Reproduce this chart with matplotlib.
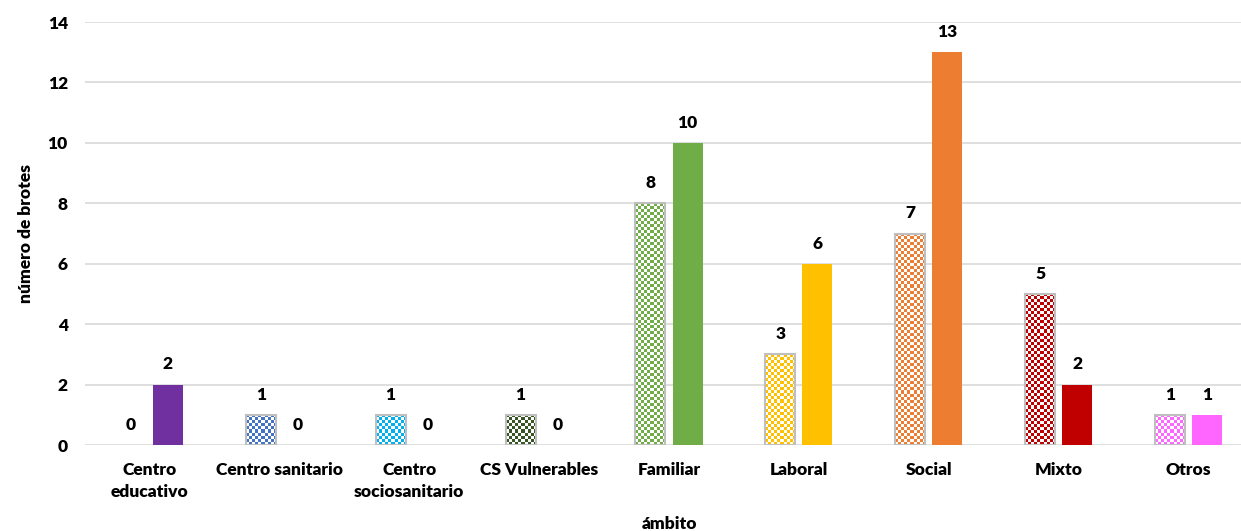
import numpy as np
import matplotlib.pyplot as plt
from matplotlib.colors import to_rgb

plt.rcParams['font.family'] = ['Lato', 'DejaVu Sans']
plt.rcParams['font.weight'] = 'heavy'

# data
categories = ["Centro\neducativo", "Centro sanitario", "Centro\nsociosanitario",
              "CS Vulnerables", "Familiar", "Laboral", "Social", "Mixto", "Otros"]
checked_vals = [0, 1, 1, 1, 8, 3, 7, 5, 1]
solid_vals = [2, 0, 0, 0, 10, 6, 13, 2, 1]
colors = ["#7030A0", "#4472C4", "#00B0F0", "#375623", "#70AD47",
          "#FFC000", "#ED7D31", "#C00000", "#FF66FF"]

FS = 12.5
W, H = 1241, 531
fig = plt.figure(figsize=(W / 100, H / 100), dpi=100)
ax = fig.add_axes([84.5 / W, 1 - 445 / H, 1169 / W, 423 / H])

x = np.arange(len(categories))
bw = 0.231
off = 0.1425

ax.set_xlim(-0.5, len(categories) - 0.5)
ax.set_ylim(0, 14)
ax.set_yticks(range(0, 15, 2))
ax.grid(axis='y', color='#D9D9D9', linewidth=1.2, zorder=0)
ax.set_axisbelow(True)
for s in ax.spines.values():
    s.set_visible(False)
ax.tick_params(length=0, labelsize=FS, pad=12)
ax.tick_params(axis='x', pad=12)

# solid bars
ax.bar(x + off, solid_vals, bw, color=colors, zorder=2)

# checked bars: white base + checkerboard image clipped to the bar + grey edge
base = ax.bar(x - off, checked_vals, bw, color='white', zorder=2)
px_per_x = ax.transData.transform((1, 0))[0] - ax.transData.transform((0, 0))[0]
px_per_y = ax.transData.transform((0, 1))[1] - ax.transData.transform((0, 0))[1]
cell = 3.0
for rect, c in zip(base, colors):
    h = rect.get_height()
    if h <= 0:
        continue
    nx = int(round(rect.get_width() * px_per_x / cell))
    ny = int(round(h * px_per_y / cell))
    ii, jj = np.indices((ny, nx))
    mask = (ii + jj) % 2 == 0
    img = np.ones((ny, nx, 3))
    img[mask] = to_rgb(c)
    im = ax.imshow(img, extent=(rect.get_x(), rect.get_x() + rect.get_width(), 0, h),
                   aspect='auto', interpolation='nearest', zorder=2.5)
    im.set_clip_path(rect)
edges = ['#BFBFBF' if v > 0 else 'none' for v in checked_vals]
ax.bar(x - off, checked_vals, bw, fill=False, edgecolor=edges, linewidth=1.5, zorder=3)
ax.set_xlim(-0.5, len(categories) - 0.5)
ax.set_ylim(0, 14)

# value labels
for xs, vals in [(x - off, checked_vals), (x + off, solid_vals)]:
    for xi, v in zip(xs, vals):
        ax.annotate(str(v), (xi, v), xytext=(0, 14.5), textcoords='offset points',
                    ha='center', va='center', fontsize=FS, fontweight='heavy')

ax.set_xticks(x)
ax.set_xticklabels(categories, linespacing=1.45)
ax.set_xlabel("ámbito", fontsize=FS, fontweight='heavy', labelpad=12)
ax.set_ylabel("número de brotes", fontsize=FS, fontweight='heavy', labelpad=10)

fig.savefig("out.png", dpi=100)
